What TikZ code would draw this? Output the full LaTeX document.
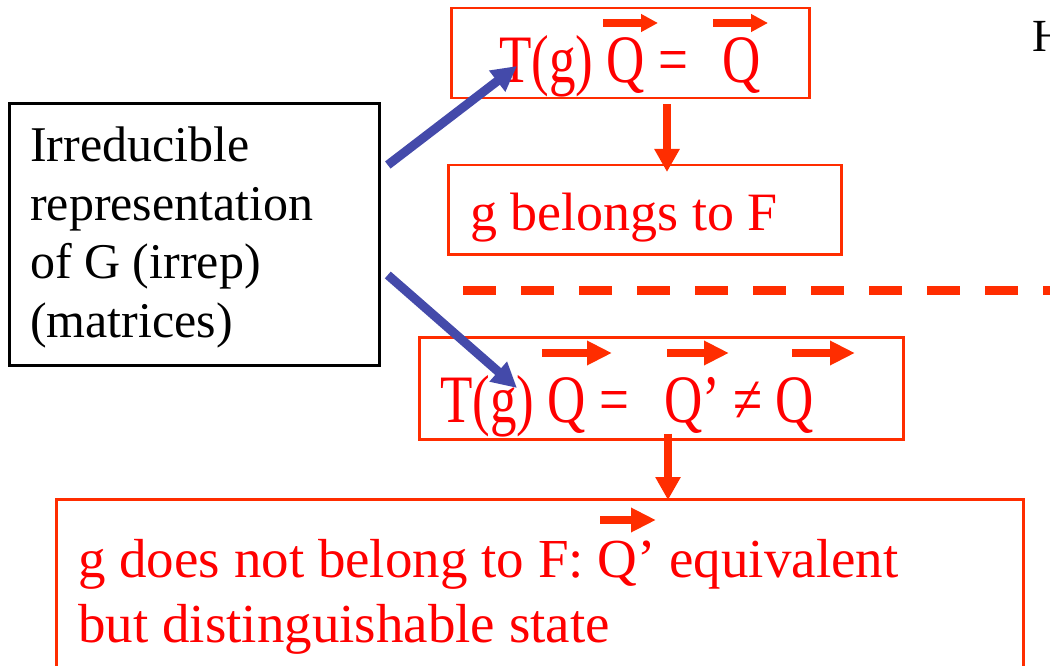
\documentclass[tikz,border=0pt]{standalone}
\usepackage{fontspec}
\setmainfont{Liberation Serif}
\usetikzlibrary{arrows.meta, calc}
\definecolor{SlideRed}{RGB}{255,0,0}
\definecolor{FrameRed}{RGB}{255,45,0}
\definecolor{ArrowBlue}{RGB}{68,74,170}

\tikzset{
  framebox/.style={draw=FrameRed, line width=2.5pt, inner sep=0pt, anchor=north west},
  irrepbox/.style={draw=black, line width=2.8pt, inner sep=0pt, anchor=north west},
  redtext/.style={text=SlideRed, inner sep=0pt, anchor=base west, align=left,
    font=\fontsize{55}{65}\selectfont},
  eqtext/.style={text=SlideRed, inner sep=0pt, anchor=base west,
    font=\fontsize{53}{63}\selectfont},
  vecarrow/.style={FrameRed, line width=8pt, -{Triangle[length=17pt, width=17pt]}},
  vecarrowbig/.style={FrameRed, line width=8pt, -{Triangle[length=25pt, width=23pt]}},
  flowarrow/.style={FrameRed, line width=8pt, -{Triangle[length=23pt, width=24pt]}},
  irreparrow/.style={ArrowBlue, line width=9pt, -{Triangle[length=25pt, width=25pt]}},
}

\begin{document}
\begin{tikzpicture}[x=1pt, y=-1pt]
\useasboundingbox (0,0) rectangle (1050,666);

% frames
\node[framebox, minimum width=358pt, minimum height=90pt] (boxa) at (450,7) {};
\node[framebox, minimum width=393pt, minimum height=89pt] (boxb) at (447,164) {};
\node[irrepbox, minimum width=370pt, minimum height=262pt] (irrep) at (8,102) {};
\node[framebox, minimum width=484pt, minimum height=102pt] (boxc) at (418,336) {};
\node[framebox, minimum width=967pt, minimum height=169pt] (boxd) at (55,498) {};

% texts (base = last line)
\node[inner sep=0pt, anchor=base west, align=left, font=\fontsize{50}{58.5}\selectfont] (irreptext) at (30,337)
  {Irreducible\\representation\\of G (irrep)\\(matrices)};
\node[eqtext] (eqa) at (499,83) {\scalebox{1}[1.28]{T(g) Q =\hspace{34pt}Q}};
\node[redtext, font=\fontsize{54}{63}\selectfont] (belongs) at (470,230) {g belongs to F};
\node[eqtext] (eqb) at (440,422) {\scalebox{1}[1.28]{T(g) Q =\hspace{35pt}Q’ ≠ Q}};
\node[redtext] (notbelong) at (78,642) {g does not belong to F: Q’ equivalent\\but distinguishable state};
\node[inner sep=0pt, anchor=base west, font=\fontsize{46}{55}\selectfont] (cut) at (1032,52) {H};

% vector arrows over Q
\draw[vecarrow] (603,23) -- (658,23);
\draw[vecarrow] (713,23) -- (768,23);
\draw[vecarrowbig] (542,353) -- (612,353);
\draw[vecarrowbig] (667,353) -- (729,353);
\draw[vecarrowbig] (792,353) -- (855,353);
\draw[vecarrowbig] (600,520) -- (656,520);

% separator
\draw[FrameRed, line width=9pt, dash pattern=on 33pt off 25pt] (463,290) -- (1070,290);

% connectors
\draw[flowarrow] ($(boxa.south west)+(217,5)$) -- ($(boxb.north west)+(220,8)$);
\draw[flowarrow] ($(boxc.south west)+(250,-7)$) -- ($(boxd.north west)+(613,2)$);
\draw[irreparrow] ($(irrep.north east)+(7,63)$) -- ($(eqa.base west)+(18,-17)$);
\draw[irreparrow] ($(irrep.north east)+(7,173)$) -- ($(eqb.base west)+(77,-34)$);

\end{tikzpicture}
\end{document}
